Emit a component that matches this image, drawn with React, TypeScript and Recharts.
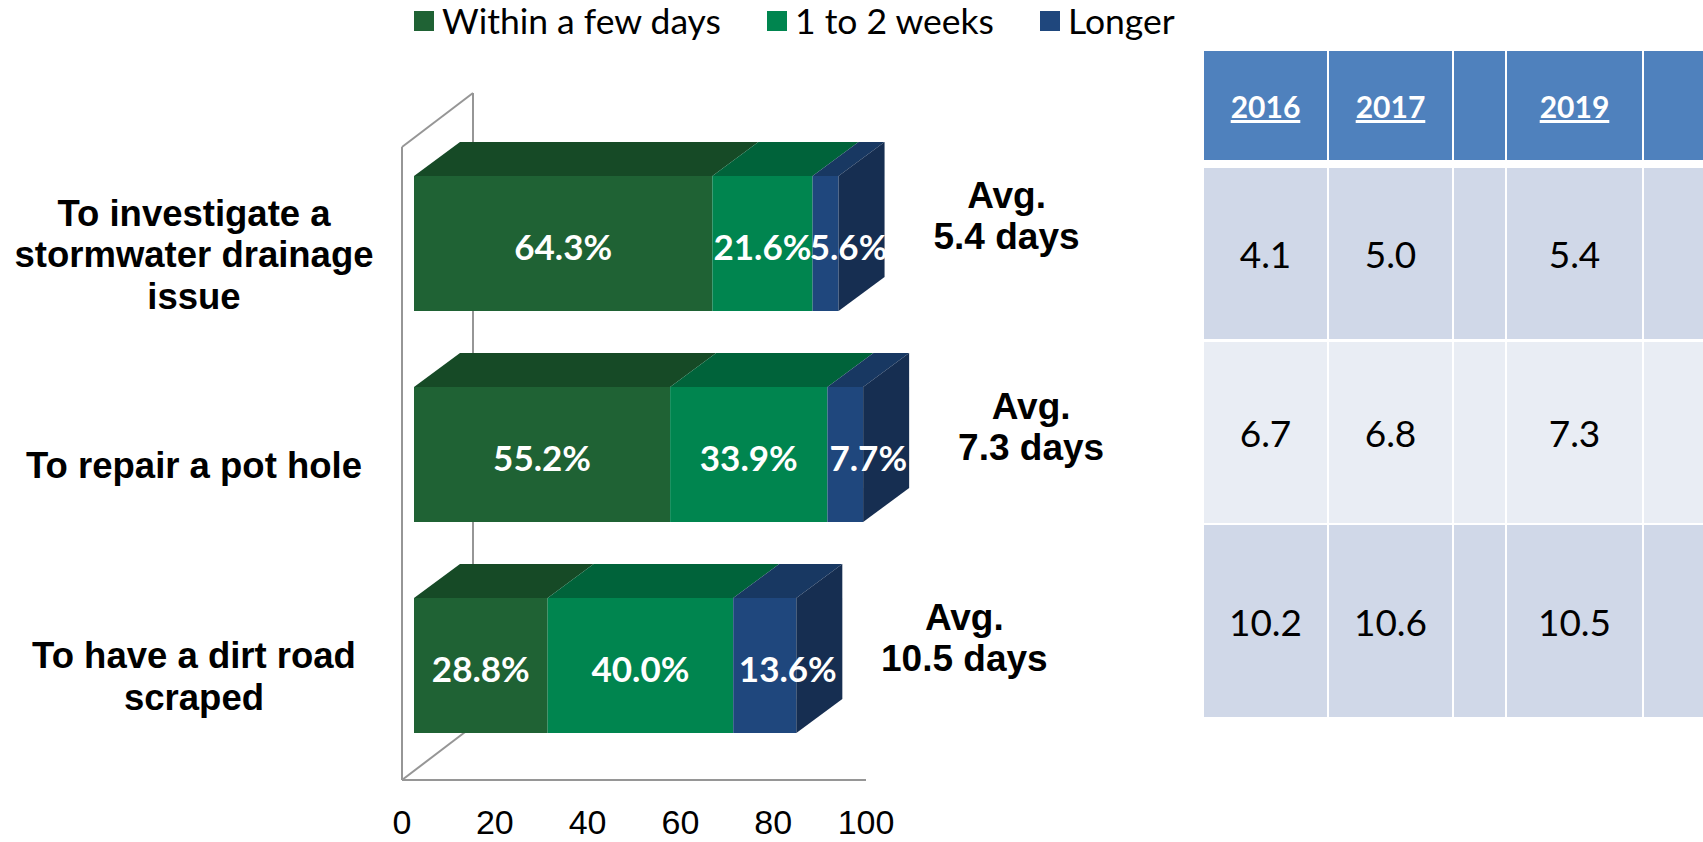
import { Bar, BarChart, LabelList, XAxis, YAxis } from "recharts"

// chart data
const categories = ["To investigate a\nstormwater drainage\nissue", "To repair a pot hole", "To have a dirt road\nscraped"]
const withinFewDays = [64.3, 55.2, 28.8]
const oneToTwoWeeks = [21.6, 33.9, 40.0]
const longer = [5.6, 7.7, 13.6]
const avgDays = [5.4, 7.3, 10.5]
const xTicks = [0, 20, 40, 60, 80, 100]
const seriesNames = ["Within a few days", "1 to 2 weeks", "Longer"]

// side table
const tableYears = ["2016", "2017", "", "2019", ""]
const days2016 = [4.1, 6.7, 10.2]
const days2017 = [5.0, 6.8, 10.6]
const days2018: number[] = []
const days2019 = [5.4, 7.3, 10.5]
const days2020: number[] = []

const data = categories.map((name, i) => ({
  name,
  within: withinFewDays[i],
  weeks: oneToTwoWeeks[i],
  longer: longer[i],
  avg: avgDays[i],
}))

const colors = {
  within: { front: "#1F6234", top: "#164A26" },
  weeks: { front: "#00854F", top: "#00633A" },
  longer: { front: "#1F477D", top: "#183862", side: "#162E51" },
}
const legendColors = [colors.within.front, colors.weeks.front, colors.longer.front]

const W = 1703
const H = 842
const PLOT = { left: 402, right: 866, top: 147, bottom: 780 }
const WALL = { dx: 71, dy: -54 } // depth of the back wall
const SHIFT = { dx: 12, dy: -9 } // bar front face offset into depth
const DEPTH = { dx: 46, dy: -34 } // bar depth

const ARIAL = "'Liberation Sans', Arial, sans-serif"
const CALIBRI = "Lato, 'Open Sans', sans-serif"
const GRID = "#969696"

function makeShape(c: { front: string; top: string; side?: string }) {
  return (props: any) => {
    const { x, y, width, height } = props
    if (!width || width <= 0) return <g />
    const fx = x + SHIFT.dx
    const fy = y + SHIFT.dy
    const top = `${fx},${fy} ${fx + width},${fy} ${fx + width + DEPTH.dx},${fy + DEPTH.dy} ${fx + DEPTH.dx},${fy + DEPTH.dy}`
    const side = `${fx + width},${fy} ${fx + width + DEPTH.dx},${fy + DEPTH.dy} ${fx + width + DEPTH.dx},${fy + height + DEPTH.dy} ${fx + width},${fy + height}`
    return (
      <g>
        <rect x={fx} y={fy} width={width} height={height} fill={c.front} />
        <polygon points={top} fill={c.top} />
        {c.side && <polygon points={side} fill={c.side} />}
      </g>
    )
  }
}

const valueLabel = (extraX: number) => (props: any) => {
  const { x, y, width, height, value } = props
  return (
    <text
      x={x + width / 2 + SHIFT.dx + extraX}
      y={y + height / 2 + SHIFT.dy + 2}
      textAnchor="middle"
      dominantBaseline="central"
      fill="#fff"
      fontFamily={CALIBRI}
      fontWeight={700}
      fontSize={35}
    >
      {Number(value).toFixed(1)}%
    </text>
  )
}

const avgLabel = (props: any) => {
  const { x, y, width, height, value } = props
  const cx = x + width + SHIFT.dx + 168
  const cy = y + height / 2 + SHIFT.dy
  return (
    <g fontFamily={ARIAL} fontWeight={700} fontSize={37} fill="#000" textAnchor="middle">
      <text x={cx} y={cy - 48} dominantBaseline="central">Avg.</text>
      <text x={cx} y={cy - 7} dominantBaseline="central">{value} days</text>
    </g>
  )
}

const renderYTick = (props: any) => {
  const { x, y, payload } = props
  const lines = String(payload.value).split("\n")
  const lh = 41.5
  const y0 = y + 2 - ((lines.length - 1) * lh) / 2
  return (
    <g>
      {lines.map((l, i) => (
        <text
          key={i}
          x={x - 200}
          y={y0 + i * lh}
          textAnchor="middle"
          dominantBaseline="central"
          fontFamily={ARIAL}
          fontWeight={700}
          fontSize={36.5}
          fill="#000"
        >
          {l}
        </text>
      ))}
    </g>
  )
}

const renderXTick = (props: any) => {
  const { x, payload } = props
  return (
    <text
      x={x}
      y={PLOT.bottom + 42}
      textAnchor="middle"
      dominantBaseline="central"
      fontFamily={ARIAL}
      fontSize={34}
      fill="#000"
    >
      {payload.value}
    </text>
  )
}

function Frame() {
  const { left, top, bottom } = PLOT
  return (
    <svg width={W} height={H} style={{ position: "absolute", left: 0, top: 0 }}>
      <g stroke={GRID} strokeWidth={2} fill="none">
        <line x1={left} y1={top} x2={left} y2={bottom} />
        <line x1={left + WALL.dx} y1={top + WALL.dy} x2={left + WALL.dx} y2={bottom + WALL.dy} />
        <line x1={left} y1={top} x2={left + WALL.dx} y2={top + WALL.dy} />
        <line x1={left} y1={bottom} x2={left + WALL.dx} y2={bottom + WALL.dy} />
      </g>
    </svg>
  )
}

function LegendRow() {
  return (
    <div
      style={{
        position: "absolute",
        left: 414,
        top: 0,
        height: 42,
        display: "flex",
        alignItems: "center",
        gap: 46,
        fontFamily: CALIBRI,
        fontSize: 35.5,
        lineHeight: "42px",
        color: "#000",
        whiteSpace: "nowrap",
      }}
    >
      {seriesNames.map((n, i) => (
        <div key={n} style={{ display: "flex", alignItems: "center" }}>
          <span style={{ width: 20, height: 20, background: legendColors[i], marginRight: 8 }} />
          <span>{n}</span>
        </div>
      ))}
    </div>
  )
}

function SideTable() {
  const colX = [1204, 1329, 1454, 1507, 1644]
  const colW = [123, 123, 51, 135, 59]
  const rows = [
    { y: 168, h: 171, bg: "#D0D8E8" },
    { y: 342, h: 181, bg: "#E9EDF4" },
    { y: 525, h: 192, bg: "#D0D8E8" },
  ]
  const cols = [days2016, days2017, days2018, days2019, days2020]
  const cell = (x: number, y: number, w: number, h: number, bg: string): React.CSSProperties => ({
    position: "absolute",
    left: x,
    top: y,
    width: w,
    height: h,
    background: bg,
    display: "flex",
    alignItems: "center",
    justifyContent: "center",
    fontFamily: CALIBRI,
  })
  return (
    <>
      {tableYears.map((yr, c) => (
        <div key={"h" + c} style={{ ...cell(colX[c], 51, colW[c], 109, "#4F81BD"), color: "#fff", fontWeight: 700, fontSize: 30, textDecoration: "underline" }}>
          {yr}
        </div>
      ))}
      {rows.map((r, ri) =>
        cols.map((vals, c) => (
          <div key={ri + "-" + c} style={{ ...cell(colX[c], r.y, colW[c], r.h, r.bg), color: "#000", fontSize: 37 }}>
            {vals[ri] !== undefined ? vals[ri].toFixed(1) : ""}
          </div>
        )),
      )}
    </>
  )
}

export default function App() {
  return (
    <div style={{ position: "relative", width: W, height: H, background: "#fff", overflow: "hidden" }}>
      <style>{"body{margin:0}"}</style>
      <Frame />
      <div style={{ position: "absolute", left: 0, top: 0 }}>
        <BarChart
          width={W}
          height={H}
          data={data}
          layout="vertical"
          margin={{ left: 0, top: PLOT.top, right: W - PLOT.right, bottom: 0 }}
        >
          <XAxis
            type="number"
            domain={[0, 100]}
            ticks={xTicks}
            interval={0}
            height={H - PLOT.bottom}
            axisLine={{ stroke: GRID, strokeWidth: 2 }}
            tickLine={false}
            tick={renderXTick}
          />
          <YAxis type="category" dataKey="name" width={PLOT.left} axisLine={false} tickLine={false} tick={renderYTick} interval={0} />
          <Bar dataKey="within" stackId="s" barSize={135} isAnimationActive={false} shape={makeShape(colors.within)}>
            <LabelList dataKey="within" content={valueLabel(0)} />
          </Bar>
          <Bar dataKey="weeks" stackId="s" barSize={135} isAnimationActive={false} shape={makeShape(colors.weeks)}>
            <LabelList dataKey="weeks" content={valueLabel(0)} />
          </Bar>
          <Bar dataKey="longer" stackId="s" barSize={135} isAnimationActive={false} shape={makeShape(colors.longer)}>
            <LabelList dataKey="longer" content={valueLabel(23)} />
            <LabelList dataKey="avg" content={avgLabel} />
          </Bar>
        </BarChart>
      </div>
      <LegendRow />
      <SideTable />
    </div>
  )
}
